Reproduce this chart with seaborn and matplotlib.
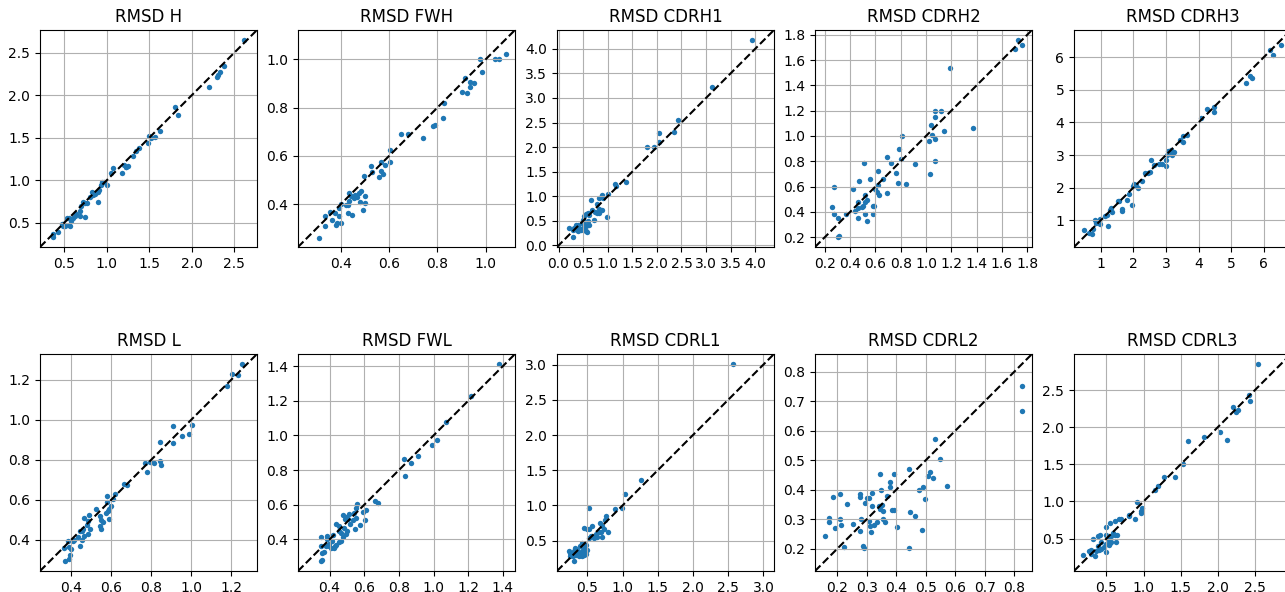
import matplotlib
matplotlib.use("Agg")
import matplotlib.pyplot as plt
from matplotlib.ticker import MultipleLocator
import seaborn as sns

# region names (panel order: top row heavy chain, bottom row light chain)
regions = ["H", "FWH", "CDRH1", "CDRH2", "CDRH3", "L", "FWL", "CDRL1", "CDRL2", "CDRL3"]
# tick spacing used on each panel
tick_steps = [0.5, 0.2, 0.5, 0.2, 1.0, 0.2, 0.2, 0.5, 0.1, 0.5]

# -----------------------------
# values
# -----------------------------
h_x = [2.61, 2.38, 2.33, 2.31, 2.29, 2.20, 1.80, 1.84, 1.62, 1.57, 1.52, 1.50, 1.48, 1.38, 1.34, 1.31,
       1.25, 1.22, 1.20, 1.18, 1.23, 1.07, 1.05, 1.00, 0.97, 0.94, 0.93, 0.91, 0.90, 0.90, 0.86, 0.84,
       0.82, 0.80, 0.77, 0.74, 0.72, 0.70, 0.68, 0.74, 0.68, 0.64, 0.62, 0.60, 0.58, 0.56, 0.53, 0.57,
       0.55, 0.51, 0.49, 0.48, 0.47, 0.43, 0.37, 0.37]
h_y = [2.65, 2.34, 2.27, 2.24, 2.21, 2.10, 1.86, 1.77, 1.58, 1.51, 1.50, 1.52, 1.44, 1.38, 1.34, 1.29,
       1.17, 1.16, 1.18, 1.09, 1.15, 1.14, 1.08, 0.94, 0.98, 0.98, 0.94, 0.88, 0.86, 0.74, 0.84, 0.82,
       0.86, 0.80, 0.73, 0.73, 0.74, 0.70, 0.64, 0.57, 0.58, 0.60, 0.58, 0.55, 0.52, 0.56, 0.55, 0.46,
       0.47, 0.46, 0.48, 0.46, 0.48, 0.39, 0.37, 0.33]

fwh_x = [1.083, 1.056, 1.04, 0.978, 0.985, 0.951, 0.937, 0.937, 0.913, 0.903, 0.924, 0.826, 0.822, 0.789,
         0.78, 0.739, 0.678, 0.649, 0.603, 0.606, 0.568, 0.582, 0.567, 0.576, 0.558, 0.526, 0.529, 0.496,
         0.5, 0.5, 0.492, 0.482, 0.475, 0.468, 0.478, 0.461, 0.454, 0.443, 0.436, 0.433, 0.432, 0.422,
         0.431, 0.447, 0.401, 0.392, 0.392, 0.378, 0.385, 0.381, 0.364, 0.403, 0.356, 0.335, 0.336, 0.31]
fwh_y = [1.022, 1.001, 1.0, 1.001, 0.947, 0.904, 0.908, 0.886, 0.921, 0.865, 0.862, 0.82, 0.756, 0.729,
         0.726, 0.675, 0.689, 0.692, 0.626, 0.576, 0.575, 0.561, 0.539, 0.524, 0.514, 0.558, 0.533, 0.519,
         0.436, 0.407, 0.376, 0.453, 0.446, 0.432, 0.411, 0.439, 0.425, 0.435, 0.447, 0.415, 0.397, 0.396,
         0.363, 0.356, 0.4, 0.386, 0.351, 0.365, 0.324, 0.312, 0.335, 0.324, 0.367, 0.35, 0.311, 0.261]

cdrh1_x = [3.94, 3.13, 2.42, 2.34, 2.05, 2.05, 1.95, 1.79, 1.38, 1.15, 1.16, 1.00, 0.88, 0.90, 0.83, 0.67,
           0.99, 0.88, 0.83, 0.78, 0.75, 0.83, 0.78, 0.69, 0.73, 0.63, 0.59, 0.56, 0.52, 0.50, 0.59, 0.63,
           0.56, 0.52, 0.48, 0.49, 0.56, 0.58, 0.42, 0.39, 0.35, 0.32, 0.37, 0.29, 0.39, 0.46, 0.22, 0.30, 0.52]
cdrh1_y = [4.18, 3.23, 2.56, 2.31, 2.29, 2.10, 2.00, 2.00, 1.29, 1.26, 1.20, 1.05, 1.02, 0.97, 0.97, 0.93,
           0.58, 0.73, 0.74, 0.85, 0.69, 0.66, 0.66, 0.73, 0.52, 0.63, 0.66, 0.65, 0.59, 0.52, 0.49, 0.42,
           0.39, 0.44, 0.46, 0.35, 0.30, 0.27, 0.35, 0.42, 0.41, 0.35, 0.32, 0.31, 0.29, 0.32, 0.35, 0.17, 0.32]

cdrh2_x = [1.73, 1.76, 1.70, 1.19, 1.37, 1.07, 1.12, 1.07, 1.04, 1.14, 1.05, 1.07, 1.02, 1.07, 1.03, 0.91,
           0.81, 0.79, 0.80, 0.78, 0.84, 0.76, 0.72, 0.69, 0.66, 0.62, 0.69, 0.62, 0.63, 0.61, 0.60, 0.56,
           0.51, 0.47, 0.42, 0.52, 0.53, 0.50, 0.52, 0.46, 0.49, 0.46, 0.44, 0.59, 0.58, 0.52, 0.58, 0.46,
           0.53, 0.37, 0.27, 0.26, 0.27, 0.30, 0.31, 0.30]
cdrh2_y = [1.76, 1.72, 1.69, 1.54, 1.06, 1.20, 1.20, 1.15, 1.09, 1.04, 1.01, 0.98, 0.96, 0.80, 0.70, 0.78,
           1.00, 0.90, 0.82, 0.63, 0.62, 0.71, 0.79, 0.83, 0.66, 0.72, 0.55, 0.61, 0.53, 0.56, 0.58, 0.66,
           0.79, 0.64, 0.58, 0.53, 0.49, 0.45, 0.48, 0.48, 0.44, 0.43, 0.41, 0.45, 0.45, 0.38, 0.38, 0.35,
           0.33, 0.38, 0.38, 0.44, 0.60, 0.35, 0.21, 0.20]

cdrh3_x = [6.53, 6.18, 6.28, 5.64, 5.57, 5.44, 4.48, 4.47, 4.26, 4.08, 3.65, 3.54, 3.44, 3.52, 3.24, 3.15,
           3.18, 3.06, 3.03, 3.18, 3.01, 3.00, 2.89, 2.78, 2.64, 2.56, 2.53, 2.44, 2.37, 2.27, 2.09, 2.03,
           1.99, 2.14, 1.86, 1.81, 1.97, 1.56, 1.52, 1.65, 1.67, 1.33, 1.36, 1.30, 1.19, 1.15, 1.24, 0.99,
           0.91, 0.84, 0.87, 0.99, 0.95, 0.77, 0.74, 0.64, 0.49]
cdrh3_y = [6.37, 6.23, 6.08, 5.36, 5.41, 5.20, 4.46, 4.32, 4.42, 4.14, 3.63, 3.58, 3.45, 3.40, 3.10, 3.17,
           3.07, 3.12, 3.02, 3.00, 2.84, 2.68, 2.73, 2.74, 2.69, 2.84, 2.49, 2.44, 2.46, 2.20, 2.10, 2.12,
           2.05, 2.00, 1.80, 1.64, 1.48, 1.59, 1.59, 1.34, 1.28, 1.38, 1.27, 1.31, 1.16, 1.13, 0.83, 1.03,
           0.98, 1.00, 0.91, 0.88, 0.94, 0.74, 0.59, 0.62, 0.71]

l_x = [1.254, 1.204, 1.234, 1.179, 1.005, 0.91, 0.988, 0.953, 0.908, 0.844, 0.844, 0.85, 0.815, 0.792,
       0.767, 0.779, 0.679, 0.662, 0.621, 0.608, 0.578, 0.581, 0.598, 0.591, 0.584, 0.574, 0.588, 0.525,
       0.545, 0.55, 0.558, 0.545, 0.548, 0.488, 0.463, 0.486, 0.48, 0.495, 0.483, 0.46, 0.453, 0.445,
       0.465, 0.453, 0.443, 0.432, 0.415, 0.408, 0.383, 0.397, 0.387, 0.362, 0.392, 0.389, 0.367]
l_y = [1.28, 1.23, 1.226, 1.171, 0.974, 0.969, 0.928, 0.918, 0.884, 0.889, 0.792, 0.775, 0.782, 0.787,
       0.784, 0.737, 0.672, 0.68, 0.627, 0.604, 0.619, 0.59, 0.569, 0.555, 0.542, 0.534, 0.502, 0.552,
       0.517, 0.5, 0.488, 0.467, 0.455, 0.525, 0.507, 0.492, 0.475, 0.453, 0.427, 0.452, 0.442, 0.445,
       0.417, 0.4, 0.368, 0.412, 0.398, 0.392, 0.395, 0.355, 0.362, 0.36, 0.323, 0.303, 0.293]

fwl_x = [1.379, 1.217, 1.074, 1.022, 0.991, 0.909, 0.868, 0.832, 0.834, 0.664, 0.677, 0.612, 0.595, 0.602,
         0.575, 0.556, 0.55, 0.543, 0.55, 0.545, 0.537, 0.518, 0.506, 0.496, 0.512, 0.479, 0.487, 0.483,
         0.477, 0.502, 0.496, 0.469, 0.454, 0.439, 0.454, 0.464, 0.454, 0.44, 0.431, 0.419, 0.412, 0.406,
         0.396, 0.383, 0.383, 0.377, 0.369, 0.358, 0.348, 0.35, 0.358, 0.348, 0.396, 0.423]
fwl_y = [1.413, 1.23, 1.078, 0.974, 0.947, 0.88, 0.843, 0.864, 0.768, 0.62, 0.61, 0.571, 0.558, 0.514,
         0.485, 0.604, 0.579, 0.554, 0.525, 0.458, 0.514, 0.49, 0.516, 0.529, 0.545, 0.541, 0.516, 0.467,
         0.413, 0.448, 0.429, 0.435, 0.448, 0.49, 0.477, 0.394, 0.383, 0.369, 0.361, 0.423, 0.39, 0.352,
         0.361, 0.419, 0.4, 0.36, 0.327, 0.323, 0.415, 0.363, 0.279, 0.275, 0.371, 0.352]

cdrl1_x = [2.57, 1.26, 1.03, 0.99, 0.89, 0.52, 0.77, 0.75, 0.68, 0.57, 0.45, 0.50, 0.53, 0.71, 0.74, 0.70,
           0.79, 0.67, 0.62, 0.64, 0.71, 0.60, 0.52, 0.55, 0.43, 0.48, 0.45, 0.40, 0.36, 0.32, 0.31, 0.26,
           0.24, 0.25, 0.29, 0.31, 0.38, 0.40, 0.43, 0.46, 0.49, 0.34, 0.38, 0.43, 0.45, 0.48, 0.36, 0.29]
cdrl1_y = [3.01, 1.36, 1.16, 0.97, 0.95, 0.97, 0.85, 0.80, 0.75, 0.71, 0.68, 0.67, 0.66, 0.71, 0.66, 0.62,
           0.62, 0.63, 0.59, 0.55, 0.55, 0.54, 0.54, 0.57, 0.47, 0.44, 0.40, 0.42, 0.37, 0.40, 0.35, 0.32,
           0.35, 0.28, 0.28, 0.21, 0.32, 0.30, 0.35, 0.32, 0.37, 0.30, 0.28, 0.28, 0.30, 0.31, 0.32, 0.32]

cdrl2_x = [0.826, 0.826, 0.532, 0.548, 0.571, 0.514, 0.506, 0.525, 0.444, 0.476, 0.489, 0.497, 0.446, 0.463,
           0.486, 0.444, 0.393, 0.378, 0.377, 0.345, 0.347, 0.37, 0.342, 0.35, 0.345, 0.385, 0.393, 0.403,
           0.318, 0.307, 0.302, 0.277, 0.277, 0.294, 0.318, 0.233, 0.186, 0.21, 0.173, 0.171, 0.209, 0.211,
           0.193, 0.158, 0.223, 0.252, 0.279, 0.276, 0.306, 0.311, 0.313, 0.326, 0.333, 0.354, 0.362, 0.356,
           0.286, 0.29]
cdrl2_y = [0.75, 0.665, 0.57, 0.504, 0.411, 0.461, 0.445, 0.438, 0.471, 0.40, 0.409, 0.368, 0.324, 0.312,
           0.263, 0.201, 0.454, 0.427, 0.409, 0.452, 0.40, 0.38, 0.344, 0.347, 0.335, 0.332, 0.332, 0.275,
           0.388, 0.373, 0.373, 0.387, 0.376, 0.355, 0.346, 0.353, 0.375, 0.387, 0.304, 0.29, 0.302, 0.282,
           0.271, 0.244, 0.205, 0.285, 0.301, 0.259, 0.293, 0.278, 0.257, 0.281, 0.291, 0.299, 0.291, 0.329,
           0.21, 0.201]

cdrl3_x = [2.55, 2.42, 2.44, 2.21, 2.27, 2.25, 2.03, 2.12, 1.81, 1.60, 1.53, 1.42, 1.28, 1.20, 1.15, 0.91,
           0.98, 0.96, 0.96, 0.88, 0.80, 0.80, 0.70, 0.67, 0.62, 0.55, 0.50, 0.59, 0.61, 0.64, 0.56, 0.50,
           0.52, 0.63, 0.55, 0.50, 0.47, 0.53, 0.56, 0.41, 0.38, 0.32, 0.42, 0.38, 0.43, 0.40, 0.36, 0.50,
           0.29, 0.27, 0.29, 0.34, 0.18]
cdrl3_y = [2.86, 2.44, 2.36, 2.28, 2.23, 2.21, 1.94, 1.83, 1.87, 1.81, 1.50, 1.33, 1.33, 1.21, 1.15, 0.99,
           0.91, 0.87, 0.84, 0.77, 0.82, 0.80, 0.76, 0.77, 0.73, 0.71, 0.66, 0.58, 0.55, 0.55, 0.53, 0.55,
           0.50, 0.45, 0.44, 0.42, 0.38, 0.41, 0.45, 0.55, 0.53, 0.49, 0.45, 0.40, 0.36, 0.34, 0.33, 0.32,
           0.34, 0.33, 0.29, 0.26, 0.28]

xs = [h_x, fwh_x, cdrh1_x, cdrh2_x, cdrh3_x, l_x, fwl_x, cdrl1_x, cdrl2_x, cdrl3_x]
ys = [h_y, fwh_y, cdrh1_y, cdrh2_y, cdrh3_y, l_y, fwl_y, cdrl1_y, cdrl2_y, cdrl3_y]

# -----------------------------
# layout: 2 x 5 square panels (last column runs off the right edge)
# -----------------------------
W, H = 1285, 592
fig = plt.figure(figsize=(W / 100, H / 100), dpi=100)
lefts = [40, 298, 557, 815, 1074]
bottoms = [345, 21]
size = 217

for i, name in enumerate(regions):
    row, col = divmod(i, 5)
    ax = fig.add_axes([lefts[col] / W, bottoms[row] / H, size / W, size / H])
    sns.scatterplot(x=xs[i], y=ys[i], ax=ax, s=15, linewidth=0, color="tab:blue")

    # same limits on both axes + diagonal
    x0, x1 = ax.get_xlim()
    y0, y1 = ax.get_ylim()
    lims = [min(x0, y0), max(x1, y1)]
    ax.plot(lims, lims, "k--")
    ax.set_xlim(lims)
    ax.set_ylim(lims)
    ax.set_aspect("equal")
    ax.xaxis.set_major_locator(MultipleLocator(tick_steps[i]))
    ax.yaxis.set_major_locator(MultipleLocator(tick_steps[i]))
    ax.grid(True)
    ax.set_title(f"RMSD {name}")

fig.savefig("out.png", dpi=100)
